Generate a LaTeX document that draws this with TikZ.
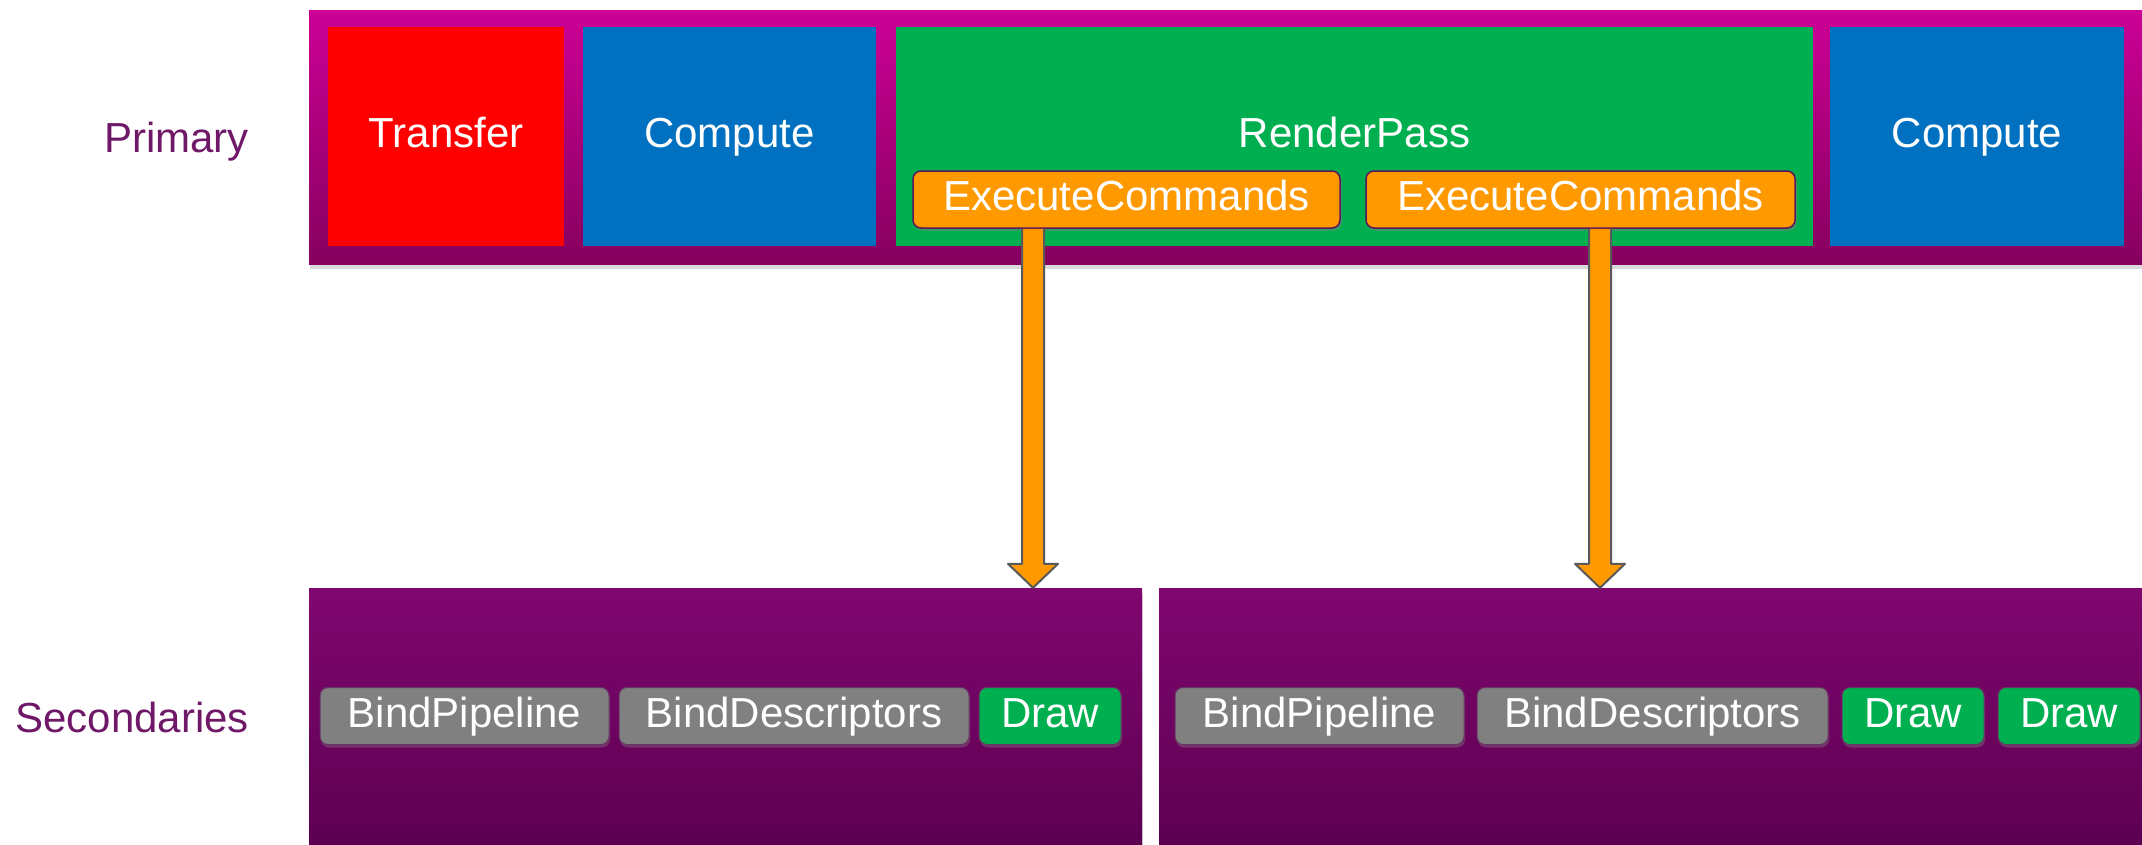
\documentclass[tikz,border=0pt]{standalone}
\usepackage{fontspec}
\setmainfont{Liberation Sans}
\usetikzlibrary{shadows,calc}
\definecolor{primtop}{RGB}{204,0,150}
\definecolor{primbot}{RGB}{134,0,94}
\definecolor{sectop}{RGB}{128,7,112}
\definecolor{secbot}{RGB}{92,0,80}
\definecolor{xred}{RGB}{255,0,0}
\definecolor{xblue}{RGB}{0,112,192}
\definecolor{xgreen}{RGB}{0,176,80}
\definecolor{xorange}{RGB}{255,153,0}
\definecolor{xgray}{RGB}{128,128,128}
\definecolor{labelcol}{RGB}{112,24,104}
\definecolor{edgepurple}{RGB}{96,20,90}
\definecolor{arrowedge}{RGB}{89,89,89}
\begin{document}
\begin{tikzpicture}[x=1pt,y=-1pt,
  bigfont/.style={font=\fontsize{42}{50}\selectfont},
  txt/.style={bigfont, text=white, inner sep=0pt, text height=30pt, text depth=8pt},
  panel/.style={rectangle, inner sep=0pt, drop shadow={opacity=0.3, shadow xshift=1pt, shadow yshift=-5pt}},
  primbar/.style={panel, top color=primtop, bottom color=primbot},
  secbar/.style={panel, top color=sectop, bottom color=secbot},
  cmdbox/.style={txt, fill=#1, minimum height=219pt},
  ecbox/.style={txt, fill=xorange, draw=edgepurple, line width=1.5pt, rounded corners=8pt,
     minimum height=57pt, drop shadow={opacity=0.4, shadow xshift=2pt, shadow yshift=-3pt}},
  item/.style={txt, fill=#1, draw=edgepurple!70!xgray, line width=1pt, rounded corners=8pt,
     minimum height=57pt, drop shadow={opacity=0.4, shadow xshift=1pt, shadow yshift=-3pt}},
  lbl/.style={bigfont, text=labelcol, inner sep=0pt, anchor=base east},
  blockarrow/.style={fill=xorange, draw=arrowedge, line width=2pt, line join=round}
]
\useasboundingbox (0,0) rectangle (2142,844);
\clip (0,0) rectangle (2142,844);

% labels
\node[lbl] (lprim) at (249,152) {Primary};
\node[lbl] (lsec) at (249,732) {Secondaries};

% primary command buffer
\node[primbar, minimum width=1840pt, minimum height=254pt] (primary) at (1229,137) {};
\node[cmdbox=xred, minimum width=236pt] (transfer) at (446,136.5) {Transfer};
\node[cmdbox=xblue, minimum width=293pt] (compute1) at (729.5,136.5) {Compute};
\node[cmdbox=xgreen, minimum width=917pt] (renderpass) at (1354.5,136.5) {RenderPass};
\node[cmdbox=xblue, minimum width=294pt] (compute2) at (1977,136.5) {Compute};
\node[ecbox, minimum width=427pt] (ec1) at (1126.5,199.5) {ExecuteCommands};
\node[ecbox, minimum width=429pt] (ec2) at (1580.5,199.5) {ExecuteCommands};

% secondary command buffers
\node[secbar, minimum width=833pt, minimum height=262pt] (sec1) at (725.5,719) {};
\node[secbar, minimum width=991pt, minimum height=262pt] (sec2) at (1654.5,719) {};

\node[item=xgray, minimum width=289pt] (bp1) at (464.5,716) {BindPipeline};
\node[item=xgray, minimum width=350pt] (bd1) at (794,716) {BindDescriptors};
\node[item=xgreen, minimum width=142pt] (dr1) at (1050,716) {Draw};
\node[item=xgray, minimum width=289pt] (bp2) at (1319.5,716) {BindPipeline};
\node[item=xgray, minimum width=351pt] (bd2) at (1652.5,716) {BindDescriptors};
\node[item=xgreen, minimum width=142pt] (dr2a) at (1913,716) {Draw};
\node[item=xgreen, minimum width=142pt] (dr2b) at (2069,716) {Draw};

% arrows
\coordinate (a1) at (1033,0);
\coordinate (a2) at (1600,0);
\coordinate (s1) at (ec1.south -| a1);
\coordinate (t1) at (sec1.north -| a1);
\coordinate (s2) at (ec2.south -| a2);
\coordinate (t2) at (sec2.north -| a2);
\filldraw[blockarrow] ($(s1)+(-11,0)$) -- ($(t1)+(-11,-24)$) -- ($(t1)+(-25,-24)$) -- (t1)
  -- ($(t1)+(25,-24)$) -- ($(t1)+(11,-24)$) -- ($(s1)+(11,0)$);
\filldraw[blockarrow] ($(s2)+(-11,0)$) -- ($(t2)+(-11,-24)$) -- ($(t2)+(-25,-24)$) -- (t2)
  -- ($(t2)+(25,-24)$) -- ($(t2)+(11,-24)$) -- ($(s2)+(11,0)$);
\end{tikzpicture}
\end{document}
